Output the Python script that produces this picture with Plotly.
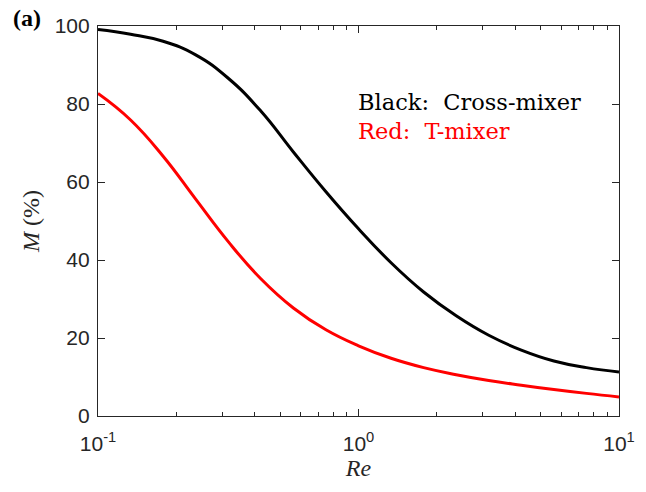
import plotly.graph_objects as go

re_vals = [0.1, 0.1334, 0.1778, 0.2371, 0.3162, 0.4217, 0.5623, 0.7499, 1.0,
           1.3335, 1.7783, 2.3714, 3.1623, 4.2170, 5.6234, 7.4989, 10.0]
m_black = [99.1, 97.9, 96.1, 92.6, 86.6, 78.2, 67.7, 57.5, 48.0,
           39.3, 31.8, 25.7, 20.7, 16.9, 14.1, 12.4, 11.3]
m_red = [82.7, 75.9, 66.6, 55.6, 44.7, 35.2, 27.7, 22.1, 18.0,
         14.8, 12.4, 10.6, 9.1, 7.9, 6.8, 5.8, 4.9]

x_tickvals = [0.1, 1, 10]
x_ticktext = ["10<sup>-1</sup>", "10<sup>0</sup>", "10<sup>1</sup>"]
x_minor = [0.2, 0.3, 0.4, 0.5, 0.6, 0.7, 0.8, 0.9, 2, 3, 4, 5, 6, 7, 8, 9]
y_tickvals = [0, 20, 40, 60, 80, 100]

fig = go.Figure()
fig.add_trace(go.Scatter(x=re_vals, y=m_black, mode="lines",
                         line=dict(color="black", width=3, shape="spline", smoothing=1.3),
                         showlegend=False))
fig.add_trace(go.Scatter(x=re_vals, y=m_red, mode="lines",
                         line=dict(color="#ff0000", width=3, shape="spline", smoothing=1.3),
                         showlegend=False))

axis_col = "#262626"
tickfont = dict(family="Liberation Sans", size=21, color="#262626")
serif = "Liberation Serif"

fig.update_xaxes(type="log", range=[-1, 1], tickvals=x_tickvals, ticktext=x_ticktext,
                 ticks="inside", ticklen=7, tickcolor=axis_col, tickwidth=1,
                 showline=True, linecolor=axis_col, linewidth=1.2, mirror="ticks",
                 showgrid=False, zeroline=False, tickfont=tickfont, ticklabelstandoff=9,
                 minor=dict(tickvals=x_minor, ticks="inside", ticklen=4, tickcolor=axis_col, showgrid=False),
                 title=dict(text="<i>Re</i>", font=dict(family=serif, size=24, color="#262626"), standoff=2))
fig.update_yaxes(range=[0, 100], tickvals=y_tickvals,
                 ticks="inside", ticklen=7, tickcolor=axis_col, tickwidth=1,
                 showline=True, linecolor=axis_col, linewidth=1.2, mirror="ticks",
                 showgrid=False, zeroline=False, tickfont=tickfont, ticklabelstandoff=3,
                 title=dict(text="<i>M</i> (%)", font=dict(family=serif, size=24, color="#262626"), standoff=8))

fig.add_annotation(x=0.495, y=0.805, xref="paper", yref="paper", xanchor="left", yanchor="middle",
                   text="Black:  Cross-mixer", showarrow=False,
                   font=dict(family="DejaVu Serif", size=22.5, color="black"))
fig.add_annotation(x=0.495, y=0.73, xref="paper", yref="paper", xanchor="left", yanchor="middle",
                   text="Red:  T-mixer", showarrow=False,
                   font=dict(family="DejaVu Serif", size=22.5, color="#ff0000"))
fig.add_annotation(x=-0.167, y=1.02, xref="paper", yref="paper", xanchor="left", yanchor="middle",
                   text="<b>(a)</b>", showarrow=False,
                   font=dict(family=serif, size=24, color="black"))

fig.update_layout(width=646, height=492, margin=dict(l=98, r=27, t=26, b=76),
                  paper_bgcolor="white", plot_bgcolor="white")
fig.write_html("out.html")
